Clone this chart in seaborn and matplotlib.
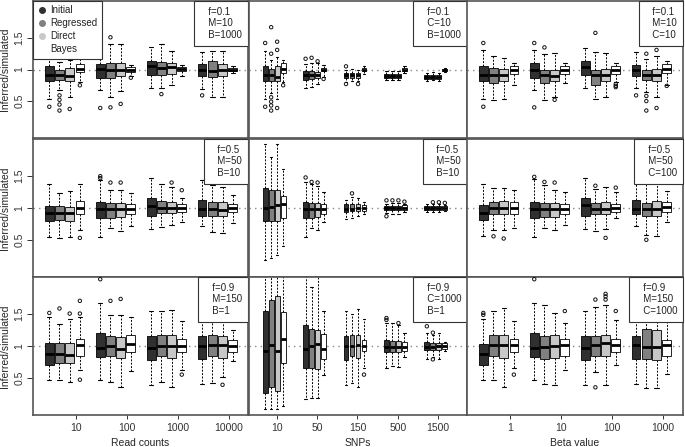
import numpy as np
import pandas as pd
import seaborn as sns
import matplotlib.pyplot as plt
from matplotlib.lines import Line2D
from matplotlib.offsetbox import AnchoredText

methods = ["Initial", "Regressed", "Direct", "Bayes"]
colors = ["#303030", "#808080", "#c8c8c8", "#ffffff"]

rc_labels = ["10", "100", "1000", "10000"]
snp_labels = ["10", "50", "150", "500", "1500"]
beta_labels = ["1", "10", "100", "1000"]

# each row: [low whisker, Q1, median, Q3, high whisker]
# boxes listed group by group, methods in legend order
rc_f01 = [
    [0.535, 0.815, 0.905, 1.05, 1.16], [0.67, 0.835, 0.92, 0.99, 1.12],
    [0.56, 0.81, 0.90, 1.02, 1.15], [0.80, 0.96, 1.01, 1.09, 1.18],
    [0.68, 0.87, 1.01, 1.09, 1.31], [0.56, 0.87, 1.00, 1.11, 1.41],
    [0.66, 0.89, 1.00, 1.10, 1.41], [0.90, 0.96, 1.00, 1.04, 1.07],
    [0.71, 0.92, 1.05, 1.13, 1.35], [0.71, 0.92, 1.02, 1.12, 1.41],
    [0.75, 0.93, 1.04, 1.10, 1.30], [0.90, 0.97, 1.01, 1.04, 1.07],
    [0.69, 0.90, 1.00, 1.08, 1.27], [0.56, 0.88, 0.97, 1.13, 1.30],
    [0.56, 0.90, 1.00, 1.08, 1.30], [0.94, 0.97, 1.00, 1.03, 1.06],
]
rc_f01_out = {0: [0.41], 1: [0.59, 0.52, 0.445, 0.35], 2: [0.375], 3: [0.75],
              4: [1.42, 0.39], 5: [1.51, 0.40], 6: [0.455], 7: [0.87],
              9: [0.61], 12: [0.59]}

snp_f01 = [
    [0.53, 0.825, 0.905, 1.05, 1.30], [0.62, 0.825, 0.92, 1.01, 1.15],
    [0.53, 0.815, 0.88, 1.05, 1.20], [0.80, 0.94, 1.01, 1.10, 1.15],
    [0.71, 0.84, 0.905, 0.97, 1.09], [0.72, 0.845, 0.905, 0.97, 1.10],
    [0.77, 0.86, 0.92, 0.96, 1.10], [0.88, 0.97, 1.00, 1.03, 1.07],
    [0.80, 0.87, 0.905, 0.94, 1.00], [0.81, 0.87, 0.905, 0.94, 1.01],
    [0.82, 0.87, 0.905, 0.94, 1.00], [0.93, 0.97, 1.00, 1.03, 1.05],
    [0.84, 0.87, 0.895, 0.93, 0.97], [0.84, 0.87, 0.895, 0.93, 0.97],
    [0.84, 0.87, 0.895, 0.93, 0.97], [0.95, 0.97, 1.00, 1.03, 1.05],
    [0.825, 0.855, 0.885, 0.91, 0.94], [0.83, 0.855, 0.885, 0.91, 0.96],
    [0.825, 0.855, 0.885, 0.91, 0.94], [0.96, 0.97, 0.99, 1.01, 1.02],
]
snp_f01_out = {0: [1.42, 0.41], 1: [1.67, 1.25, 0.56, 0.49, 0.43, 0.35],
               2: [1.44, 1.31, 0.39], 3: [0.75], 4: [1.17], 5: [1.185],
               6: [1.13], 7: [0.85], 8: [1.05, 0.77], 10: [0.77]}

beta_f01 = [
    [0.535, 0.815, 0.905, 1.05, 1.31], [0.52, 0.78, 0.905, 1.02, 1.22],
    [0.54, 0.81, 0.905, 1.01, 1.18], [0.75, 0.93, 1.00, 1.06, 1.11],
    [0.68, 0.87, 1.00, 1.10, 1.31], [0.52, 0.79, 0.905, 0.995, 1.24],
    [0.57, 0.81, 0.89, 0.985, 1.26], [0.78, 0.93, 1.00, 1.06, 1.11],
    [0.71, 0.92, 1.04, 1.13, 1.34], [0.535, 0.76, 0.905, 1.00, 1.28],
    [0.56, 0.81, 0.905, 1.01, 1.26], [0.80, 0.93, 1.00, 1.06, 1.11],
    [0.71, 0.90, 1.00, 1.07, 1.27], [0.65, 0.835, 0.905, 0.985, 1.17],
    [0.56, 0.82, 0.905, 1.01, 1.22], [0.75, 0.94, 1.01, 1.09, 1.14],
]
beta_f01_out = {0: [1.42, 0.41], 4: [1.42, 0.40], 5: [1.35], 6: [0.52],
                9: [1.58], 11: [0.77, 0.74, 0.72], 12: [0.59],
                13: [1.25, 0.58, 0.50, 0.35], 14: [1.31, 0.39], 15: [0.74]}

rc_f05 = [
    [0.55, 0.795, 0.92, 1.03, 1.375], [0.53, 0.815, 0.925, 1.03, 1.24],
    [0.55, 0.80, 0.925, 1.015, 1.27], [0.66, 0.90, 1.00, 1.105, 1.37],
    [0.54, 0.84, 0.99, 1.095, 1.44], [0.68, 0.845, 0.99, 1.08, 1.29],
    [0.64, 0.865, 0.98, 1.08, 1.28], [0.72, 0.91, 0.99, 1.06, 1.24],
    [0.67, 0.87, 1.025, 1.15, 1.47], [0.70, 0.92, 1.005, 1.11, 1.37],
    [0.74, 0.92, 1.005, 1.10, 1.33], [0.78, 0.94, 1.00, 1.06, 1.16],
    [0.71, 0.87, 0.99, 1.12, 1.44], [0.62, 0.88, 0.99, 1.10, 1.36],
    [0.61, 0.88, 0.97, 1.10, 1.33], [0.77, 0.94, 1.00, 1.06, 1.20],
]
rc_f05_out = {3: [0.53], 4: [1.50, 1.47], 5: [1.40], 6: [1.40], 10: [1.40], 11: [1.28]}

snp_f05 = [
    [0.18, 0.79, 1.00, 1.32, 2.01], [0.22, 0.80, 1.015, 1.29, 1.80],
    [0.26, 0.79, 1.05, 1.28, 2.01], [0.41, 0.845, 1.07, 1.19, 1.61],
    [0.54, 0.84, 0.99, 1.095, 1.41], [0.69, 0.85, 0.98, 1.08, 1.37],
    [0.65, 0.865, 0.98, 1.08, 1.35], [0.78, 0.91, 0.98, 1.07, 1.25],
    [0.83, 0.94, 0.98, 1.06, 1.13], [0.85, 0.95, 0.98, 1.06, 1.17],
    [0.88, 0.96, 1.00, 1.07, 1.16], [0.90, 0.96, 1.00, 1.04, 1.10],
    [0.92, 0.965, 1.00, 1.03, 1.07], [0.91, 0.965, 1.00, 1.03, 1.08],
    [0.91, 0.965, 1.00, 1.03, 1.08], [0.93, 0.975, 1.00, 1.04, 1.06],
    [0.93, 0.965, 0.995, 1.025, 1.07], [0.94, 0.965, 0.995, 1.025, 1.06],
    [0.93, 0.965, 0.995, 1.025, 1.06], [0.95, 0.975, 1.00, 1.025, 1.05],
]
snp_f05_out = {4: [1.48], 5: [1.41], 6: [1.40], 9: [1.23], 12: [1.12, 0.87],
               13: [1.12], 14: [1.12], 15: [1.10], 17: [1.09], 18: [1.09], 19: [1.08]}

beta_f05 = [
    [0.555, 0.805, 0.92, 1.05, 1.375], [0.66, 0.90, 1.00, 1.095, 1.31],
    [0.65, 0.90, 1.00, 1.105, 1.31], [0.68, 0.90, 1.00, 1.095, 1.29],
    [0.54, 0.84, 0.99, 1.095, 1.45], [0.69, 0.855, 0.99, 1.085, 1.36],
    [0.65, 0.865, 0.98, 1.08, 1.29], [0.74, 0.91, 0.98, 1.07, 1.25],
    [0.67, 0.87, 1.04, 1.16, 1.47], [0.64, 0.90, 0.99, 1.085, 1.30],
    [0.67, 0.90, 0.99, 1.095, 1.33], [0.84, 0.94, 1.00, 1.07, 1.25],
    [0.71, 0.90, 0.99, 1.12, 1.42], [0.57, 0.87, 0.99, 1.085, 1.39],
    [0.56, 0.87, 0.99, 1.105, 1.39], [0.78, 0.94, 1.015, 1.10, 1.26],
]
beta_f05_out = {1: [0.555], 2: [0.52], 4: [1.49], 5: [1.41], 6: [1.40],
                9: [1.35], 10: [0.53], 11: [1.32], 13: [0.50]}

rc_f09 = [
    [0.47, 0.705, 0.87, 1.05, 1.45], [0.46, 0.74, 0.87, 1.05, 1.34],
    [0.43, 0.74, 0.855, 1.05, 1.42], [0.62, 0.835, 1.01, 1.115, 1.45],
    [0.47, 0.825, 0.975, 1.20, 1.68], [0.43, 0.84, 0.995, 1.16, 1.48],
    [0.36, 0.815, 0.96, 1.14, 1.48], [0.60, 0.905, 1.035, 1.17, 1.45],
    [0.39, 0.775, 0.975, 1.15, 1.55], [0.44, 0.835, 1.00, 1.17, 1.55],
    [0.36, 0.815, 1.00, 1.17, 1.57], [0.62, 0.905, 1.00, 1.11, 1.40],
    [0.40, 0.80, 1.00, 1.16, 1.45], [0.42, 0.835, 1.02, 1.17, 1.45],
    [0.52, 0.815, 1.02, 1.15, 1.45], [0.77, 0.905, 1.00, 1.10, 1.25],
]
rc_f09_out = {0: [1.52], 1: [1.59], 2: [1.51], 3: [1.71, 1.51, 0.47], 4: [2.05],
              5: [1.71], 6: [1.74], 11: [0.55], 14: [0.39]}

snp_f09 = [
    [0.01, 0.26, 0.915, 1.55, 2.30], [0.01, 0.35, 1.02, 1.72, 2.30],
    [0.01, 0.30, 0.92, 1.79, 2.30], [0.05, 0.73, 1.105, 1.53, 2.30],
    [0.17, 0.66, 0.95, 1.33, 2.30], [0.19, 0.66, 1.00, 1.26, 1.93],
    [0.19, 0.64, 1.025, 1.25, 2.30], [0.55, 0.80, 0.96, 1.195, 1.55],
    [0.39, 0.785, 1.00, 1.15, 1.55], [0.42, 0.835, 1.00, 1.17, 1.51],
    [0.35, 0.815, 1.01, 1.18, 1.58], [0.66, 0.915, 1.00, 1.10, 1.42],
    [0.66, 0.90, 0.98, 1.09, 1.36], [0.68, 0.90, 0.98, 1.08, 1.36],
    [0.67, 0.90, 0.98, 1.08, 1.33], [0.82, 0.92, 0.99, 1.06, 1.20],
    [0.79, 0.935, 0.985, 1.06, 1.20], [0.83, 0.935, 0.985, 1.05, 1.17],
    [0.79, 0.94, 0.995, 1.05, 1.20], [0.92, 0.96, 1.00, 1.04, 1.06],
]
snp_f09_out = {11: [0.55], 12: [1.44, 1.41], 14: [1.36], 16: [1.31], 17: [1.21, 0.79]}

beta_f09 = [
    [0.47, 0.705, 0.87, 1.025, 1.43], [0.46, 0.835, 1.01, 1.18, 1.55],
    [0.36, 0.815, 1.01, 1.18, 1.59], [0.66, 0.905, 1.01, 1.105, 1.40],
    [0.47, 0.825, 0.975, 1.205, 1.68], [0.40, 0.79, 0.985, 1.15, 1.65],
    [0.39, 0.815, 0.995, 1.18, 1.52], [0.62, 0.85, 1.01, 1.105, 1.36],
    [0.39, 0.785, 0.97, 1.15, 1.55], [0.59, 0.835, 1.01, 1.15, 1.62],
    [0.39, 0.835, 1.05, 1.18, 1.64], [0.70, 0.905, 1.01, 1.11, 1.41],
    [0.41, 0.80, 1.02, 1.15, 1.45], [0.34, 0.79, 0.985, 1.26, 1.50],
    [0.34, 0.785, 0.985, 1.25, 1.50], [0.56, 0.84, 1.01, 1.10, 1.40],
]
beta_f09_out = {0: [1.52, 1.49], 3: [0.55], 4: [2.05], 7: [1.55], 9: [1.73, 0.35],
                10: [1.82, 1.78, 1.73], 11: [1.55]}

params = [
    ["f=0.1\nM=10\nB=1000", "f=0.1\nC=10\nB=1000", "f=0.1\nM=10\nC=10"],
    ["f=0.5\nM=50\nB=10", "f=0.5\nM=50\nB=10", "f=0.5\nM=50\nC=100"],
    ["f=0.9\nM=150\nB=1", "f=0.9\nC=1000\nB=1", "f=0.9\nM=150\nC=1000"],
]
grid = [
    [(rc_f01, rc_f01_out), (snp_f01, snp_f01_out), (beta_f01, beta_f01_out)],
    [(rc_f05, rc_f05_out), (snp_f05, snp_f05_out), (beta_f05, beta_f05_out)],
    [(rc_f09, rc_f09_out), (snp_f09, snp_f09_out), (beta_f09, beta_f09_out)],
]
# per column: group spacing, tick offset, box width, x limits, tick labels, axis title
col_setup = [
    (5.0, 2.6, 0.85, (-1.6, 19.5), rc_labels, "Read counts"),
    (6.75, 1.9, 0.8, (-2.7, 33.7), snp_labels, "SNPs"),
    (5.0, 2.6, 0.85, (-1.6, 19.6), beta_labels, "Beta value"),
]

sns.set_theme(style="white")
plt.rcParams["font.family"] = ["Liberation Sans", "DejaVu Sans"]
plt.rcParams["text.color"] = "#222222"

W, H = 685, 447
col_px = [(33, 248), (249, 467), (467, 683)]
row_px = [(1, 138), (139, 277), (277, 415)]

fig = plt.figure(figsize=(W / 100, H / 100), dpi=100)

for r in range(3):
    for c in range(3):
        x0, x1 = col_px[c]
        y0, y1 = row_px[r]
        ax = fig.add_axes([x0 / W, 1 - y1 / H, (x1 - x0) / W, (y1 - y0) / H])
        stats, outl = grid[r][c]
        gap, toff, bw, xlim, labels, xtitle = col_setup[c]

        recs = []
        for i, five in enumerate(stats):
            g, m = divmod(i, 4)
            for v in five:
                recs.append({"pos": g * gap + m, "value": v, "method": methods[m]})
        df = pd.DataFrame(recs)

        ax.axhline(1, color="#888888", ls=(0, (1, 3)), lw=1.0, zorder=0)
        sns.boxplot(data=df, x="pos", y="value", hue="method", hue_order=methods,
                    palette=colors, saturation=1, native_scale=True, dodge=False,
                    whis=(0, 100), width=bw, linecolor="black", linewidth=0.6,
                    fliersize=0, legend=False, ax=ax,
                    medianprops=dict(color="black", linewidth=2.0),
                    whiskerprops=dict(color="black", linewidth=0.7, linestyle=(0, (2, 1.5))),
                    capprops=dict(color="black", linewidth=0.8))

        ox, oy = [], []
        for i, vals in outl.items():
            g, m = divmod(i, 4)
            for v in vals:
                ox.append(g * gap + m)
                oy.append(v)
        ax.scatter(ox, oy, s=6, facecolors="none", edgecolors="#111111",
                   linewidths=0.7, zorder=3)

        ax.set_xlim(*xlim)
        ax.set_ylim(-0.085, 2.085)
        ax.set_xlabel("")
        ax.set_ylabel("")
        for sp in ax.spines.values():
            sp.set_color("#555555")
            sp.set_linewidth(1.2)

        if c == 0:
            ax.set_yticks([0.5, 1, 1.5])
            ax.set_yticklabels(["0.5", "1", "1.5"], rotation=90, va="center")
            ax.tick_params(axis="y", left=True, length=4, width=0.7,
                           direction="out", labelsize=7.5, pad=2, colors="#333333")
            ax.set_ylabel("Inferred/simulated", fontsize=7.5, labelpad=3)
        else:
            ax.set_yticks([])

        if r == 2:
            ax.set_xticks([g * gap + toff for g in range(len(labels))])
            ax.set_xticklabels(labels)
            ax.tick_params(axis="x", bottom=True, length=3, width=0.7,
                           direction="out", labelsize=7.5, pad=2.5, colors="#333333")
            ax.set_xlabel(xtitle, fontsize=7.5, labelpad=3.5)
        else:
            ax.set_xticks([])

        ptxt = "\n".join("   " + line for line in params[r][c].split("\n"))
        at = AnchoredText(ptxt, loc="upper right", borderpad=0, pad=0.6,
                          frameon=True, prop=dict(size=7, linespacing=1.2))
        at.patch.set_boxstyle("square,pad=0")
        at.patch.set_edgecolor("#333333")
        at.patch.set_linewidth(0.8)
        at.zorder = 5
        ax.add_artist(at)

        if r == 0 and c == 0:
            handles = [Line2D([], [], marker="o", ls="", markersize=4,
                              markerfacecolor=col, markeredgecolor=col)
                       for col in colors]
            leg = ax.legend(handles, methods, loc="upper left", borderaxespad=0,
                            frameon=True, fancybox=False, edgecolor="#333333",
                            framealpha=1, fontsize=7, handletextpad=0.3,
                            labelspacing=0.3, borderpad=0.45, handlelength=1.0)
            leg.get_frame().set_linewidth(0.8)
            leg.set_zorder(5)

fig.savefig("out.png", dpi=100)
